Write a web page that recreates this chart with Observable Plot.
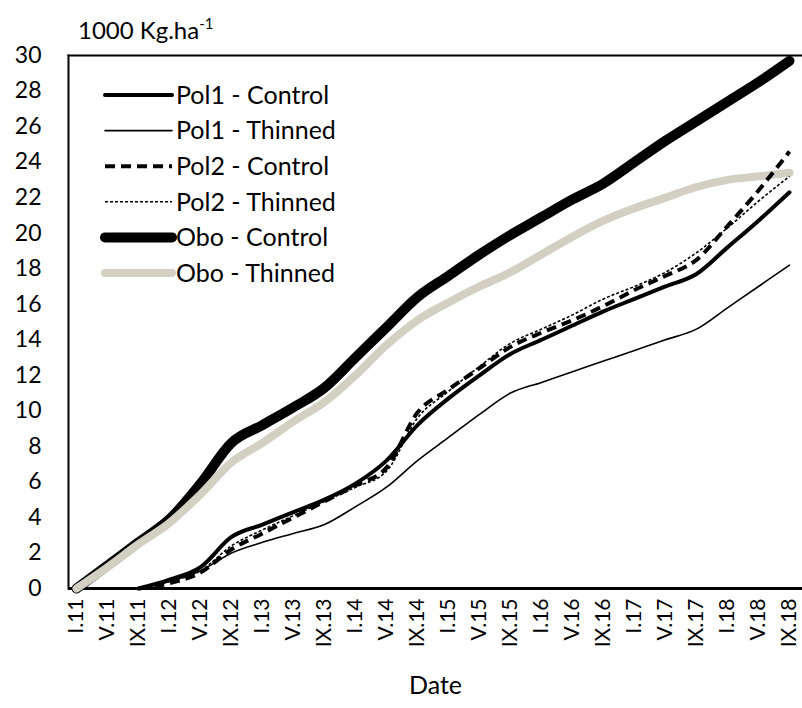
<!DOCTYPE html>
<html>
<head>
<meta charset="utf-8">
<script src="https://cdn.jsdelivr.net/npm/d3@7"></script>
<script src="https://cdn.jsdelivr.net/npm/@observablehq/plot@0.6"></script>
<style>
  body { margin: 0; background: #fff; }
  #wrap { position: relative; width: 802px; height: 708px; font-family: Lato, "Open Sans", sans-serif; color: #000; }
  #unit { position: absolute; left: 78px; top: 15px; font-size: 24px; white-space: nowrap; }
  #unit sup { font-size: 15px; position: relative; top: -1px; }
  #legend { position: absolute; left: 0; top: 0; }
</style>
</head>
<body>
<div id="wrap">
  <div id="unit">1000 Kg.ha<sup>-1</sup></div>
</div>
<script>
// Sampling dates (month in Roman numerals . year)
const dates = ["I.11","V.11","IX.11","I.12","V.12","IX.12","I.13","V.13","IX.13","I.14","V.14","IX.14",
               "I.15","V.15","IX.15","I.16","V.16","IX.16","I.17","V.17","IX.17","I.18","V.18","IX.18"];

// Accumulated biomass, 1000 kg/ha
const oboControl  = [0, 1.3, 2.6, 3.9, 5.9, 8.2, 9.2, 10.2, 11.3, 13.0, 14.7, 16.4, 17.6, 18.8, 19.9, 20.9, 21.9, 22.8, 24.0, 25.2, 26.3, 27.4, 28.5, 29.7];
const oboThinned  = [0, 1.2, 2.5, 3.7, 5.3, 7.1, 8.2, 9.4, 10.5, 12.0, 13.7, 15.1, 16.1, 17.0, 17.8, 18.8, 19.8, 20.7, 21.4, 22.0, 22.6, 23.0, 23.2, 23.4];
const pol1Control = [null, null, 0, 0.5, 1.2, 2.9, 3.6, 4.3, 5.0, 5.9, 7.2, 9.2, 10.7, 12.0, 13.2, 14.0, 14.8, 15.6, 16.3, 17.0, 17.7, 19.2, 20.7, 22.3];
const pol1Thinned = [null, null, 0, 0.4, 1.0, 2.0, 2.6, 3.1, 3.6, 4.6, 5.7, 7.2, 8.5, 9.8, 11.0, 11.6, 12.2, 12.8, 13.4, 14.0, 14.6, 15.8, 17.0, 18.2];
const pol2Control = [null, null, 0, 0.3, 0.9, 2.2, 3.1, 4.0, 4.9, 5.8, 6.8, 9.9, 11.2, 12.4, 13.6, 14.4, 15.1, 15.9, 16.8, 17.6, 18.5, 20.4, 22.4, 24.6];
const pol2Thinned = [null, null, 0, 0.4, 1.0, 2.4, 3.3, 4.1, 4.9, 5.7, 6.6, 9.6, 11.1, 12.5, 13.8, 14.6, 15.4, 16.3, 17.0, 17.8, 18.9, 20.3, 21.8, 23.2];

const yTicks = d3.range(0, 31, 2);

// Series in legend order, with their line styles
const series = [
  {name: "Pol1 - Control", values: pol1Control, stroke: "#000",    width: 4,   dash: null},
  {name: "Pol1 - Thinned", values: pol1Thinned, stroke: "#000",    width: 1.6, dash: null},
  {name: "Pol2 - Control", values: pol2Control, stroke: "#000",    width: 4,   dash: "10,6"},
  {name: "Pol2 - Thinned", values: pol2Thinned, stroke: "#000",    width: 1.6, dash: "3,2"},
  {name: "Obo - Control",  values: oboControl,  stroke: "#000",    width: 10,  dash: null},
  {name: "Obo - Thinned",  values: oboThinned,  stroke: "#d3cfc3", width: 8,   dash: null}
];

const toRows = s => s.values.map((v, i) => ({date: dates[i], value: v})).filter(d => d.value != null);

// Obo lines go underneath the Pol lines
const drawOrder = [series[4], series[5], series[0], series[1], series[2], series[3]];

const font = "Lato, 'Open Sans', sans-serif";

const chart = Plot.plot({
  width: 802,
  height: 708,
  marginLeft: 68,
  marginRight: 0,
  marginTop: 55,
  marginBottom: 120,
  style: {fontFamily: font, color: "#000", background: "#fff"},
  x: {type: "point", domain: dates, range: [71, 793], padding: 0},
  y: {domain: [0, 30]},
  marks: [
    Plot.frame({anchor: "left", strokeWidth: 2}),
    Plot.frame({anchor: "top", strokeWidth: 2}),
    Plot.ruleY([0], {strokeWidth: 3}),
    ...drawOrder.map(s => Plot.line(toRows(s), {
      x: "date", y: "value",
      stroke: s.stroke, strokeWidth: s.width, strokeDasharray: s.dash,
      curve: "monotone-x", strokeLinecap: s.dash ? "butt" : "round"
    })),
    Plot.axisY({ticks: yTicks, tickSize: 0, tickPadding: 27, fontSize: 23, label: null}),
    Plot.axisX({tickSize: 0, tickPadding: 10, tickRotate: -90, fontSize: 21, label: null}),
    Plot.text(["Date"], {frameAnchor: "bottom", dy: 105, fontSize: 25, fill: "#000"})
  ]
});

const wrap = document.getElementById("wrap");
wrap.insertBefore(chart, wrap.firstChild);

// Legend drawn over the upper-left of the plot
const lg = d3.select(wrap).append("svg")
  .attr("id", "legend").attr("width", 802).attr("height", 708)
  .style("pointer-events", "none");
series.forEach((s, i) => {
  const y = 95 + i * 35.6;
  lg.append("line")
    .attr("x1", 105).attr("x2", 172).attr("y1", y).attr("y2", y)
    .attr("stroke", s.stroke).attr("stroke-width", s.width)
    .attr("stroke-dasharray", s.dash)
    .attr("stroke-linecap", s.dash ? "butt" : "round");
  lg.append("text")
    .attr("x", 176).attr("y", y).attr("dy", "0.35em")
    .attr("font-size", 25).attr("fill", "#000")
    .attr("font-family", font)
    .text(s.name);
});
</script>
</body>
</html>
